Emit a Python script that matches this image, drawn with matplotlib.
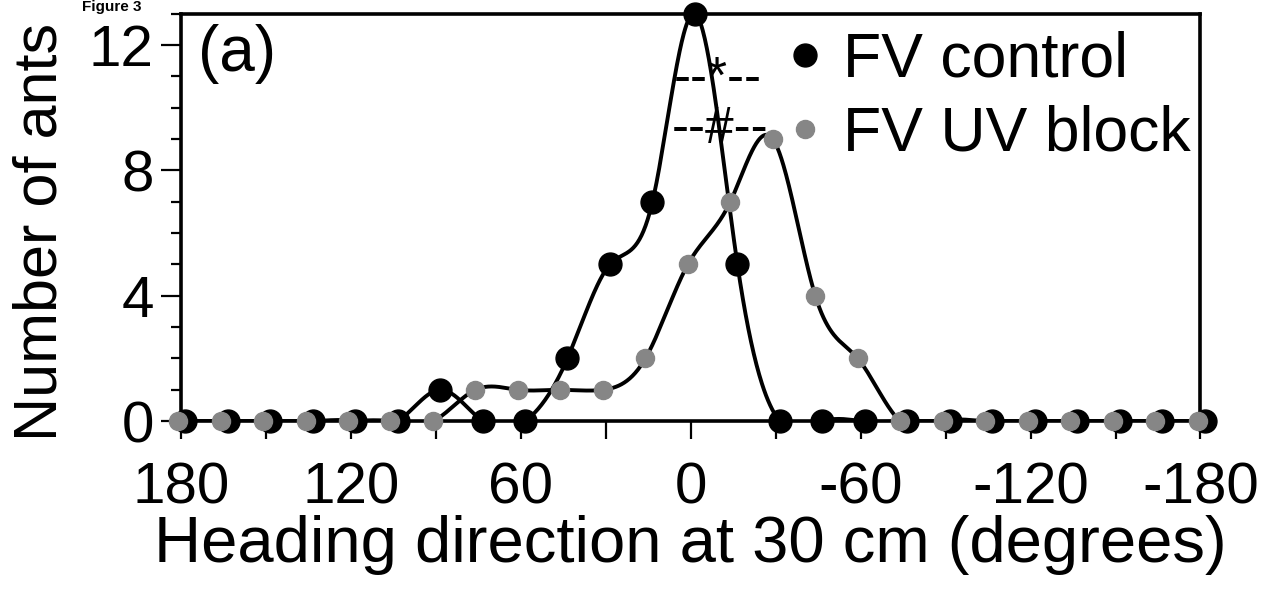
import numpy as np
import matplotlib.pyplot as plt
from matplotlib.lines import Line2D
from matplotlib.ticker import MultipleLocator

plt.rcParams['font.family'] = ['Liberation Sans', 'DejaVu Sans']
plt.rcParams['axes.unicode_minus'] = False

# heading bins (degrees), 15 degree steps
angles = np.arange(180, -181, -15)
control_x = angles - 1.5
uvblock_x = angles + 1.0
control = [0, 0, 0, 0, 0, 0, 1, 0, 0, 2, 5, 7, 13, 5, 0, 0, 0, 0, 0, 0, 0, 0, 0, 0, 0]
uvblock = [0, 0, 0, 0, 0, 0, 0, 1, 1, 1, 1, 2, 5, 7, 9, 4, 2, 0, 0, 0, 0, 0, 0, 0, 0]


def natural_spline(x, y, n=1500):
    x = np.asarray(x, float)[::-1]
    y = np.asarray(y, float)[::-1]
    m = len(x)
    h = np.diff(x)
    A = np.zeros((m, m))
    b = np.zeros(m)
    A[0, 0] = A[-1, -1] = 1
    for i in range(1, m - 1):
        A[i, i - 1] = h[i - 1]
        A[i, i] = 2 * (h[i - 1] + h[i])
        A[i, i + 1] = h[i]
        b[i] = 6 * ((y[i + 1] - y[i]) / h[i] - (y[i] - y[i - 1]) / h[i - 1])
    M = np.linalg.solve(A, b)
    xs = np.linspace(x[0], x[-1], n)
    k = np.clip(np.searchsorted(x, xs) - 1, 0, m - 2)
    t0 = x[k + 1] - xs
    t1 = xs - x[k]
    hk = h[k]
    ys = (M[k] * t0**3 + M[k + 1] * t1**3) / (6 * hk) \
        + (y[k] / hk - M[k] * hk / 6) * t0 + (y[k + 1] / hk - M[k + 1] * hk / 6) * t1
    return xs, ys


fig = plt.figure(figsize=(12.65, 5.94), dpi=100)
ax = fig.add_axes([0.143, 0.291, 0.806, 0.686])

gray = '#868686'
xs, ys = natural_spline(control_x, control)
ax.plot(xs, ys, color='black', lw=2.8)
xs, ys = natural_spline(uvblock_x, uvblock)
ax.plot(xs, ys, color='black', lw=2.8)
ax.plot(control_x, control, 'o', color='black', ms=16.5, clip_on=False, zorder=3)
ax.plot(uvblock_x, uvblock, 'o', color=gray, ms=13, clip_on=False, zorder=4)

ax.set_xlim(180, -180)
ax.set_ylim(0, 13)
ax.xaxis.set_major_locator(MultipleLocator(60))
ax.xaxis.set_minor_locator(MultipleLocator(30))
ax.yaxis.set_major_locator(MultipleLocator(4))
ax.yaxis.set_minor_locator(MultipleLocator(1))
ax.tick_params(axis='x', which='both', direction='out', length=13, width=1.6,
               labelsize=42, pad=16, top=False)
ax.tick_params(axis='y', which='major', direction='out', length=14.5, width=1.6,
               labelsize=42, pad=5, right=False)
ax.tick_params(axis='y', which='minor', direction='out', length=7.5, width=1.6, right=False)
for s in ax.spines.values():
    s.set_linewidth(2.6)

ax.set_xlabel('Heading direction at 30 cm (degrees)', fontsize=47, labelpad=0)
ax.set_ylabel('Number of ants', fontsize=44)
ax.yaxis.set_label_coords(-0.109, 0.464)

ax.text(0.017, 0.975, '(a)', transform=ax.transAxes, fontsize=46, va='top')
ax.text(-9.5, 10.9, '--*--', fontsize=37, ha='center', va='center')
ax.text(-10.5, 9.3, '--#--', fontsize=37, ha='center', va='center')

handles = [Line2D([], [], ls='none', marker='o', color='black', ms=16.5),
           Line2D([], [], ls='none', marker='o', color=gray, ms=13)]
ax.legend(handles, ['FV control', 'FV UV block'], loc='upper right',
          bbox_to_anchor=(1.0147, 1.02), frameon=False, fontsize=45,
          handletextpad=0.2, labelspacing=0.24, borderaxespad=0.0,
          handlelength=0.8)

fig.text(0.065, 1.0, 'Figure 3', fontsize=11, fontweight='bold', va='top')

fig.savefig('out.png', dpi=100)
